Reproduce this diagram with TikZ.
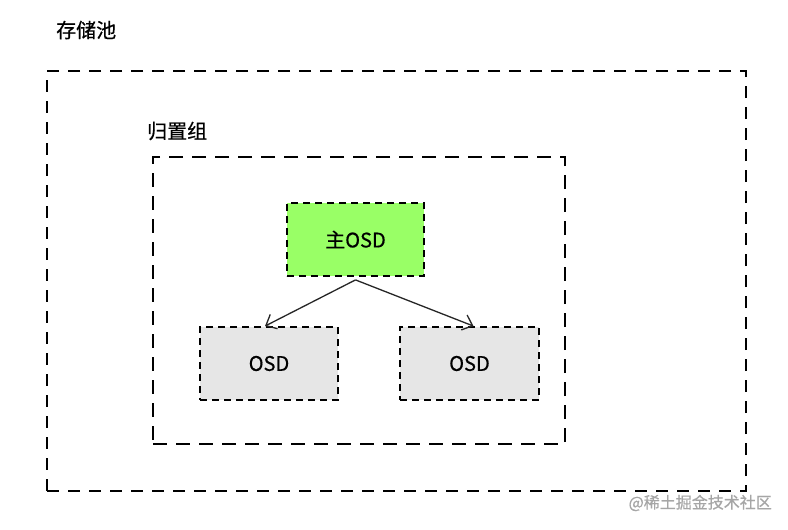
\documentclass[tikz,border=0pt]{standalone}
\usepackage{fontspec}
\setmainfont{Noto Sans CJK SC}[FakeBold=0.6]
\usetikzlibrary{arrows.meta}
\definecolor{mgreen}{HTML}{99FF66}
\definecolor{mgray}{HTML}{E6E6E6}
\tikzset{
  bigbox/.style={draw=black, line width=2pt, dash pattern=on 12pt off 9pt},
  midbox/.style={draw=black, line width=2pt, dash pattern=on 14pt off 9pt},
  osdbox/.style={draw=black, line width=1.8pt, dash pattern=on 7pt off 5pt, minimum width=138pt, minimum height=73pt, inner sep=0pt, font=\fontsize{20pt}{24pt}\selectfont},
  lbl/.style={anchor=west, inner sep=0pt, font=\fontsize{20pt}{24pt}\selectfont},
  conn/.style={draw=black!85, line width=1.3pt, -{Straight Barb[length=9pt,width=16pt]}}
}
\begin{document}
\begin{tikzpicture}[x=1pt,y=-1pt]
\fill[white] (0,0) rectangle (788,530);
\useasboundingbox (0,0) rectangle (788,530);
\node[lbl] (pooll) at (56,30) {存储池};
\node[bigbox, minimum width=699pt, minimum height=420pt, inner sep=0pt] (pool) at (396.5,281) {};
\node[lbl] (pgl) at (147,131) {归置组};
\node[midbox, minimum width=412pt, minimum height=287pt, inner sep=0pt] (pg) at (359,300.5) {};
\node[osdbox, fill=mgreen, minimum width=137pt] (main) at (355.5,239.5) {主OSD};
\node[osdbox, fill=mgray] (o1) at (269,363.5) {OSD};
\node[osdbox, fill=mgray, minimum width=139pt] (o2) at (469.5,363.5) {OSD};
\coordinate (src) at ([yshift=-3pt]main.south);
\draw[conn] (src) -- ([xshift=-4pt]o1.north);
\draw[conn] (src) -- ([xshift=4pt]o2.north);
\node[anchor=east, inner sep=0pt, text=black!35, font=\fontsize{16pt}{18pt}\selectfont] (wm) at (772,503) {@稀土掘金技术社区};
\end{tikzpicture}
\end{document}
